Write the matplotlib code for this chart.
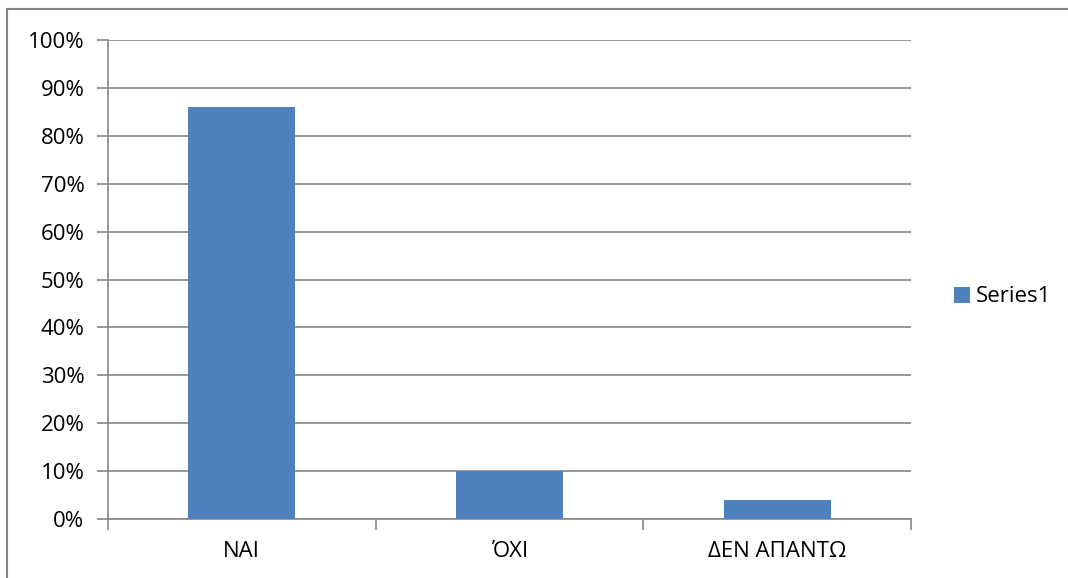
import matplotlib
matplotlib.use("Agg")
import matplotlib.pyplot as plt
from matplotlib.ticker import PercentFormatter, FixedLocator
from matplotlib.patches import Rectangle

categories = ["ΝΑΙ", "ΌΧΙ", "ΔΕΝ ΑΠΑΝΤΩ"]
values = [86, 10, 4]
yticks = [0, 10, 20, 30, 40, 50, 60, 70, 80, 90, 100]
series_name = "Series1"

plt.rcParams['font.family'] = ['Open Sans', 'DejaVu Sans']
W, H = 1068, 578
fs = 16
fig = plt.figure(figsize=(W / 100, H / 100), dpi=100)
ax = fig.add_axes([108 / W, 1 - 519 / H, (911 - 108) / W, (519 - 40) / H])

grid_c = "#868686"
x = list(range(len(categories)))
ax.bar(x, values, width=0.4, color="#4F81BD", label=series_name, zorder=3)
ax.set_xlim(-0.5, len(categories) - 0.5)
ax.set_ylim(0, 100)
ax.set_yticks(yticks)
ax.yaxis.set_major_formatter(PercentFormatter(decimals=0))
ax.yaxis.grid(True, color=grid_c, linewidth=1.2, zorder=0)
ax.set_xticks(x)
ax.set_xticklabels(categories)
ax.xaxis.set_minor_locator(FixedLocator([i - 0.5 for i in range(len(categories) + 1)]))
ax.tick_params(axis='x', which='major', length=0, pad=16, labelsize=fs)
ax.tick_params(axis='x', which='minor', length=8, width=1.2, color=grid_c)
ax.tick_params(axis='y', length=8, width=1.2, color=grid_c, pad=9, labelsize=fs)
for s in ["top", "right"]:
    ax.spines[s].set_visible(False)
for s in ["left", "bottom"]:
    ax.spines[s].set_color(grid_c)
    ax.spines[s].set_linewidth(1.2)

leg = fig.legend(loc="center left", bbox_to_anchor=(934 / W, 1 - 297 / H), frameon=False,
                 fontsize=fs, handlelength=0.7, handleheight=0.7, handletextpad=0.3)

fig.patches.append(Rectangle((7 / W, -0.1), 1.2, 1 - 9 / H + 0.1, transform=fig.transFigure,
                             fill=False, edgecolor=grid_c, linewidth=1.5))

fig.savefig("out.png", dpi=100)
